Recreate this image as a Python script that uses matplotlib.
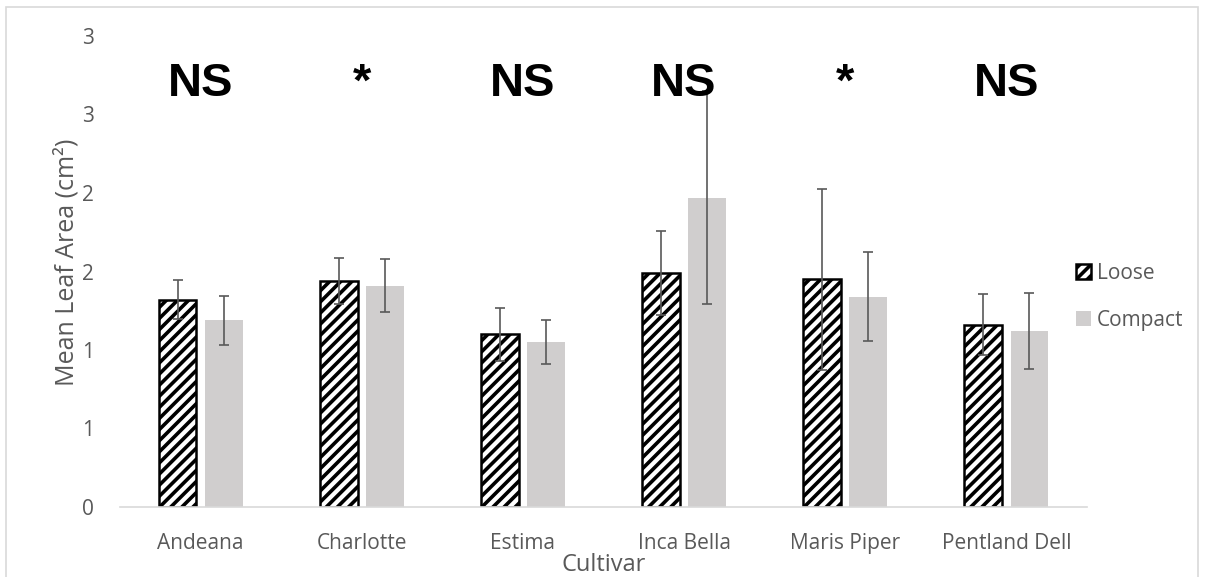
import matplotlib
matplotlib.use("Agg")
import matplotlib.pyplot as plt
import numpy as np
from matplotlib.patches import Rectangle

# -----------------------------------------------------------------------------
#         Data
# -----------------------------------------------------------------------------
cultivars = ["Andeana", "Charlotte", "Estima", "Inca Bella", "Maris Piper",
             "Pentland Dell"]
loose = [1.32, 1.44, 1.10, 1.49, 1.45, 1.16]
loose_err = [0.125, 0.145, 0.17, 0.265, 0.575, 0.195]
compact = [1.19, 1.41, 1.05, 1.97, 1.34, 1.12]
compact_err = [0.155, 0.17, 0.14, 0.68, 0.285, 0.24]
signif = ["NS", "*", "NS", "NS", "*", "NS"]

# Excel axis with 0 decimals -> 0.5 steps shown rounded
ytick_vals = [0, 0.5, 1.0, 1.5, 2.0, 2.5, 3.0]
ytick_labels = ["0", "1", "1", "2", "2", "3", "3"]

# -----------------------------------------------------------------------------
#         Plot
# -----------------------------------------------------------------------------
plt.rcParams['font.family'] = ['Open Sans', 'DejaVu Sans']
plt.rcParams['hatch.linewidth'] = 2.6

grey_txt = '#595959'

fig = plt.figure(figsize=(12.05, 5.77), dpi=100)
ax = fig.add_axes([120 / 1205, 1 - 507 / 577, 967 / 1205, 471 / 577])

x = np.arange(len(cultivars))
w = 0.235
off = 0.143

ax.bar(x - off, loose, w, facecolor='white', edgecolor='black',
       linewidth=1.8, hatch='///', label='Loose', zorder=2)
ax.bar(x + off, compact, w, color='#d0cece', label='Compact', zorder=2)

ekw = dict(fmt='none', ecolor=grey_txt, elinewidth=1.2, capsize=3.6,
           capthick=1.2, zorder=3)
ax.errorbar(x - off, loose, yerr=loose_err, **ekw)
ax.errorbar(x + off, compact, yerr=compact_err, **ekw)

for xi, s in zip(x, signif):
    ax.text(xi, 2.62, s, ha='center', va='baseline', fontsize=34,
            fontweight='bold', family='Liberation Sans', color='black',
            zorder=4)

ax.set_xlim(-0.5, len(cultivars) - 0.5)
ax.set_ylim(0, 3)
ax.set_yticks(ytick_vals)
ax.set_yticklabels(ytick_labels)
ax.set_xticks(x)
ax.set_xticklabels(cultivars)
ax.tick_params(axis='y', length=0, pad=19, labelsize=15, labelcolor=grey_txt)
ax.tick_params(axis='x', length=0, pad=19, labelsize=15, labelcolor=grey_txt)

for side in ['left', 'right', 'top']:
    ax.spines[side].set_visible(False)
ax.spines['bottom'].set_color('#d9d9d9')
ax.spines['bottom'].set_linewidth(1.2)

ax.set_ylabel("Mean Leaf Area (cm²)", fontsize=18, color=grey_txt)
ax.yaxis.set_label_coords(-(120 - 80) / 967, 0.52)
ax.set_xlabel("Cultivar", fontsize=17, color=grey_txt, labelpad=-1)

fig.legend(loc='upper left', bbox_to_anchor=(1076 / 1205, 1 - 263 / 577),
           frameon=False, fontsize=15, handlelength=0.7, handleheight=0.7,
           handletextpad=0.3, labelspacing=1.25, borderpad=0,
           borderaxespad=0, labelcolor=grey_txt)

fig.patches.append(Rectangle((6 / 1205, -0.05), 1192 / 1205, 1.05 - 7 / 577,
                             transform=fig.transFigure, fill=False,
                             edgecolor='#d9d9d9', linewidth=1.2))

fig.savefig("out.png", dpi=100)
